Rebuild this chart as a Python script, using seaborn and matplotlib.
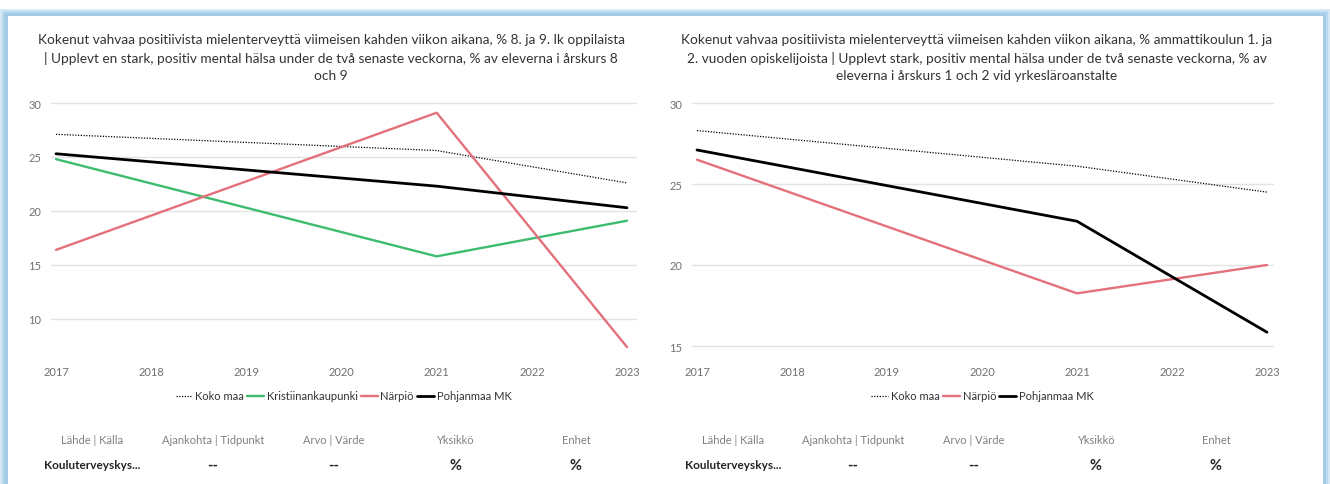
import matplotlib
matplotlib.use("Agg")
import matplotlib.pyplot as plt
from matplotlib.patches import Rectangle
import seaborn as sns
import pandas as pd

# ---------------- data ----------------
years_left = [2017, 2021, 2023]
koko_maa_left = [27.1, 25.6, 22.6]
kristiinankaupunki_left = [24.8, 15.8, 19.1]
narpio_left = [16.4, 29.1, 7.4]
pohjanmaa_left = [25.3, 22.3, 20.3]

years_right = [2017, 2021, 2023]
koko_maa_right = [28.3, 26.1, 24.5]
narpio_right = [26.5, 18.25, 20.0]
pohjanmaa_right = [27.1, 22.7, 15.85]

xticks = [2017, 2018, 2019, 2020, 2021, 2022, 2023]
yticks_left = [10, 15, 20, 25, 30]
yticks_right = [15, 20, 25, 30]

title_left = ("Kokenut vahvaa positiivista mielenterveyttä viimeisen kahden viikon aikana, % 8. ja 9. lk oppilaista\n"
              "| Upplevt en stark, positiv mental hälsa under de två senaste veckorna, % av eleverna i årskurs 8\n"
              "och 9")
title_right = ("Kokenut vahvaa positiivista mielenterveyttä viimeisen kahden viikon aikana, % ammattikoulun 1. ja\n"
               "2. vuoden opiskelijoista | Upplevt stark, positiv mental hälsa under de två senaste veckorna, % av\n"
               "eleverna i årskurs 1 och 2 vid yrkesläroanstalte")

table_headers = ["Lähde | Källa", "Ajankohta | Tidpunkt", "Arvo | Värde", "Yksikkö", "Enhet"]
table_values = ["Kouluterveyskys...", "--", "--", "%", "%"]

# ---------------- style ----------------
sns.set_theme(style="white")
plt.rcParams['font.family'] = ['Lato', 'DejaVu Sans']

colors = {"Koko maa": "#000000", "Kristiinankaupunki": "#3dbb6f",
          "Närpiö": "#e3707a", "Pohjanmaa MK": "#000000"}
dashes = {"Koko maa": (1, 1.2), "Kristiinankaupunki": "", "Närpiö": "", "Pohjanmaa MK": ""}
widths = {"Koko maa": 0.9, "Kristiinankaupunki": 1.7, "Närpiö": 1.7, "Pohjanmaa MK": 2.0}

W, H = 1330, 485
fig = plt.figure(figsize=(W / 100, H / 100), dpi=100)
fig.patch.set_facecolor("white")

# frame / glow
def prect(x0, y0, x1, y1, color, z=-10):
    fig.patches.append(Rectangle((x0 / W, 1 - y1 / H), (x1 - x0) / W, (y1 - y0) / H,
                                 transform=fig.transFigure, facecolor=color, edgecolor="none",
                                 zorder=z))

prect(0, 10, 1330, 485, "#d6e8f5", z=-10)
prect(2, 12, 1328, 485, "#b9d9ef", z=-9)
prect(4, 14, 1326, 485, "#a3cbe6", z=-8)
prect(8, 17, 1323, 485, "white", z=-7)


def make_df(years, series):
    rows = []
    for name, vals in series.items():
        for y, v in zip(years, vals):
            rows.append({"year": y, "value": v, "series": name})
    return pd.DataFrame(rows)


def axes_px(x0, x1, y0, y1):
    ax = fig.add_axes([x0 / W, 1 - y1 / H, (x1 - x0) / W, (y1 - y0) / H])
    ax.set_zorder(5)
    return ax


def draw_panel(x0, x1, y_top, y_bot, years, series, ylim, yticks, title, title_cx,
               xdata0, xdata1, table_x):
    ax = axes_px(x0, x1, y_top, y_bot)
    df = make_df(years, series)
    order = list(series.keys())
    sns.lineplot(data=df, x="year", y="value", hue="series", hue_order=order,
                 palette={k: colors[k] for k in order},
                 style="series", style_order=order, dashes={k: dashes[k] for k in order},
                 size="series", size_order=order, sizes={k: widths[k] for k in order},
                 legend=False, ax=ax, zorder=3)
    per = (xdata1 - xdata0) / 6.0
    ax.set_xlim(2017 - (xdata0 - x0) / per, 2023 + (x1 - xdata1) / per)
    ax.set_ylim(*ylim)
    ax.set_xticks(xticks)
    ax.set_xticklabels([str(t) for t in xticks])
    ax.set_yticks(yticks)
    ax.set_yticklabels([str(t) for t in yticks])
    ax.grid(axis="y", color="#e3e3e3", linewidth=1.0)
    for g in ax.get_ygridlines():
        g.set_clip_on(False)
    ax.grid(axis="x", visible=False)
    for s in ax.spines.values():
        s.set_visible(False)
    ax.set_facecolor("none")
    ax.tick_params(axis="both", length=0, labelsize=8, labelcolor="#707070")
    ax.tick_params(axis="x", pad=12)
    ax.tick_params(axis="y", pad=7)
    ax.set_xlabel("")
    ax.set_ylabel("")

    handles = ax.get_lines()[:len(order)]
    ax.legend(handles, order, loc="center",
              bbox_to_anchor=(0.5, (y_bot - 397) / (y_bot - y_top)),
              ncol=len(order), frameon=False, fontsize=8, handlelength=1.5,
              handletextpad=0.25, columnspacing=0.3, labelcolor="#333333")

    fig.text(title_cx / W, 1 - 58 / H, title, ha="center", va="center", fontsize=9.8,
             color="#333333", linespacing=1.5)

    for i, (h, v) in enumerate(zip(table_headers, table_values)):
        cx = table_x[i]
        fig.text(cx / W, 1 - 441 / H, h, ha="center", va="center", fontsize=8,
                 color="#808080")
        fig.text(cx / W, 1 - 466 / H, v, ha="center", va="center",
                 fontsize=8.5 if i == 0 else 10.5,
                 fontweight="bold", color="#252423")
    return ax


left_series = {"Koko maa": koko_maa_left, "Kristiinankaupunki": kristiinankaupunki_left,
               "Närpiö": narpio_left, "Pohjanmaa MK": pohjanmaa_left}
right_series = {"Koko maa": koko_maa_right, "Närpiö": narpio_right,
                "Pohjanmaa MK": pohjanmaa_right}

draw_panel(51, 636, 104, 350, years_left, left_series, (30 - (350 - 104) / 10.8, 30),
           yticks_left, title_left, 331, 56, 627,
           [92, 213, 334, 455, 576])
draw_panel(692, 1273, 104, 350, years_right, right_series, (30 - (350 - 104) / 16.2, 30),
           yticks_right, title_right, 977, 697, 1267,
           [733, 853, 974, 1096, 1216])

fig.savefig("out.png", dpi=100, facecolor=fig.get_facecolor())
